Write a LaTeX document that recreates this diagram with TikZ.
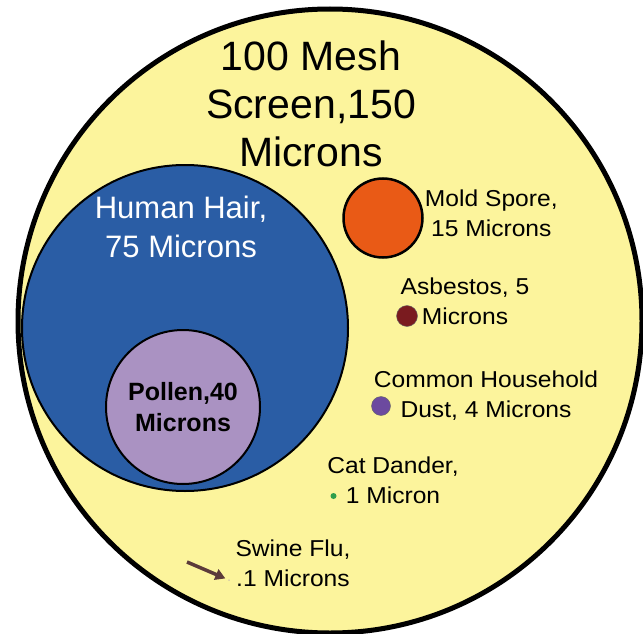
\documentclass[tikz,border=0pt]{standalone}
\usepackage{fontspec}
\setmainfont{Liberation Sans}
\newfontfamily\widesans[FakeStretch=1.07]{Liberation Sans}
\usetikzlibrary{arrows.meta,positioning}
\definecolor{meshyellow}{HTML}{FCF49C}
\definecolor{hairblue}{HTML}{2A5DA5}
\definecolor{pollenlilac}{HTML}{AA92C2}
\definecolor{moldorange}{HTML}{E95A16}
\definecolor{asbestosred}{HTML}{7A1B1F}
\definecolor{dustpurple}{HTML}{6C4A9F}
\definecolor{dandergreen}{HTML}{2F9E4C}
\definecolor{flubrown}{HTML}{5C3A3A}

\begin{document}
\begin{tikzpicture}[x=1pt,y=-1pt,
every node/.style={inner sep=0pt},
disc/.style={circle,draw=black,line width=2pt},
dot/.style={circle,inner sep=0pt},
lbl/.style={align=center,font=\widesans\fontsize{23}{30}\selectfont},
arr/.style={-{Triangle[length=10pt,width=11pt]},line width=3.5pt,draw=flubrown}
]
\useasboundingbox (0,0) rectangle (643,634);
\node[disc,line width=5pt,fill=meshyellow,minimum size=624pt] (mesh) at (330,321) {};
\node[disc,fill=hairblue,minimum size=326pt] (hair) at (185,328) {};
\node[disc,fill=pollenlilac,minimum size=154pt] (pollen) at (183,407) {};
\node[disc,line width=2.5pt,fill=moldorange,minimum size=79pt] (mold) at (383,218) {};
\node[dot,fill=asbestosred,draw=black!60,minimum size=21pt] (asbestos) at (407,316) {};
\node[dot,fill=dustpurple,draw=black!60,minimum size=19pt] (dust) at (381,406) {};
\node[dot,fill=dandergreen,minimum size=6pt] (dander) at (333.5,496) {};
\node[dot,fill=flubrown!40,minimum size=1.5pt] (flu) at (229,580) {};
\coordinate (flutail) at (187,562);

\node[align=center,font=\fontsize{41}{48}\selectfont] (meshlbl) at (311,104) {100 Mesh\\Screen,150\\Microns};
\node[align=center,text=white,font=\fontsize{31}{39}\selectfont] (hairlbl) at (181,227) {Human Hair,\\75 Microns};
\node[align=center,font=\bfseries\fontsize{25}{31}\selectfont] (pollenlbl) at (183,407) {Pollen,40\\Microns};
\node[lbl,right=1pt of mold,yshift=4.5pt] (moldlbl) {Mold Spore,\\15 Microns};
\node[lbl] (asbestoslbl) at (465,301) {Asbestos, 5\\Microns};
\node[lbl] (dustlbl) at (486,395.5) {Common Household\\Dust, 4 Microns};
\node[lbl] (danderlbl) at (393,480) {Cat Dander,\\1 Micron};
\node[lbl] (flulbl) at (293,563.5) {Swine Flu,\\.1 Microns};

\draw[arr,shorten >=3pt] (flutail) -- (flu);
\end{tikzpicture}
\end{document}
